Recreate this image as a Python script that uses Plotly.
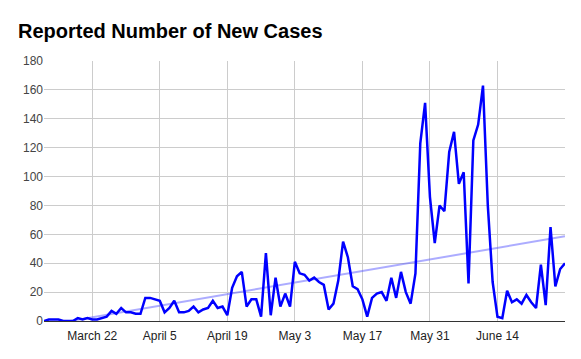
import numpy as np
import pandas as pd
import plotly.graph_objects as go

start_date = "2020-03-12"
new_cases = [
    0, 1, 1, 1, 0, 0, 0, 2, 1, 2,
    1, 1, 2, 3, 7, 5, 9, 6, 6, 5,
    5, 16, 16, 15, 14, 6, 9, 14, 6, 6,
    7, 10, 6, 8, 9, 14, 9, 10, 4, 23,
    31, 34, 10, 15, 15, 3, 47, 4, 30, 10,
    19, 10, 41, 33, 32, 28, 30, 27, 25, 8,
    12, 28, 55, 44, 24, 22, 15, 3, 16, 19,
    20, 14, 30, 16, 34, 20, 12, 33, 123, 151,
    86, 54, 80, 76, 117, 131, 95, 103, 26, 125,
    136, 163, 80, 27, 3, 2, 21, 13, 15, 12,
    18, 13, 9, 39, 11, 65, 24, 36, 40,
]
tick_dates = ["2020-03-22", "2020-04-05", "2020-04-19", "2020-05-03",
              "2020-05-17", "2020-05-31", "2020-06-14"]
tick_labels = ["March 22", "April 5", "April 19", "May 3", "May 17", "May 31", "June 14"]
y_ticks = [0, 20, 40, 60, 80, 100, 120, 140, 160, 180]

dates = pd.date_range(start_date, periods=len(new_cases), freq="D")
idx = np.arange(len(new_cases))
slope, intercept = np.polyfit(idx, new_cases, 1)
trend = slope * idx + intercept

# page body adds an 8px offset; figure size compensates for it
W, H = 573, 351

fig = go.Figure()
fig.add_trace(go.Scatter(x=dates, y=trend, mode="lines",
                         line=dict(color="rgba(90,90,255,0.5)", width=2),
                         hoverinfo="skip", showlegend=False))
fig.add_trace(go.Scatter(x=dates, y=new_cases, mode="lines",
                         line=dict(color="#0000ff", width=2.5),
                         showlegend=False))

fig.update_layout(
    width=W, height=H,
    paper_bgcolor="white", plot_bgcolor="white",
    margin=dict(l=36, r=16, t=53, b=38),
    font=dict(family="Liberation Sans, Arial, sans-serif", size=12, color="#222222"),
    title=dict(text="<b>Reported Number of New Cases</b>",
               x=10 / W, xanchor="left", xref="container",
               y=1 - 23 / H, yanchor="middle", yref="container",
               font=dict(size=20, color="#000000")),
)
fig.update_xaxes(range=[dates[0], dates[-1]], tickvals=pd.to_datetime(tick_dates),
                 ticktext=tick_labels, showgrid=True, gridcolor="#cccccc",
                 gridwidth=1, zeroline=False, showline=True, linecolor="#333333",
                 linewidth=1, ticks="", ticklabelstandoff=4,
                 tickfont=dict(size=12, color="#222222"))
fig.update_yaxes(range=[0, 180], tickvals=y_ticks, showgrid=True,
                 gridcolor="#cccccc", gridwidth=1, zeroline=False, showline=False,
                 ticks="", tickfont=dict(size=12, color="#444444"))

fig.write_html("out.html")
